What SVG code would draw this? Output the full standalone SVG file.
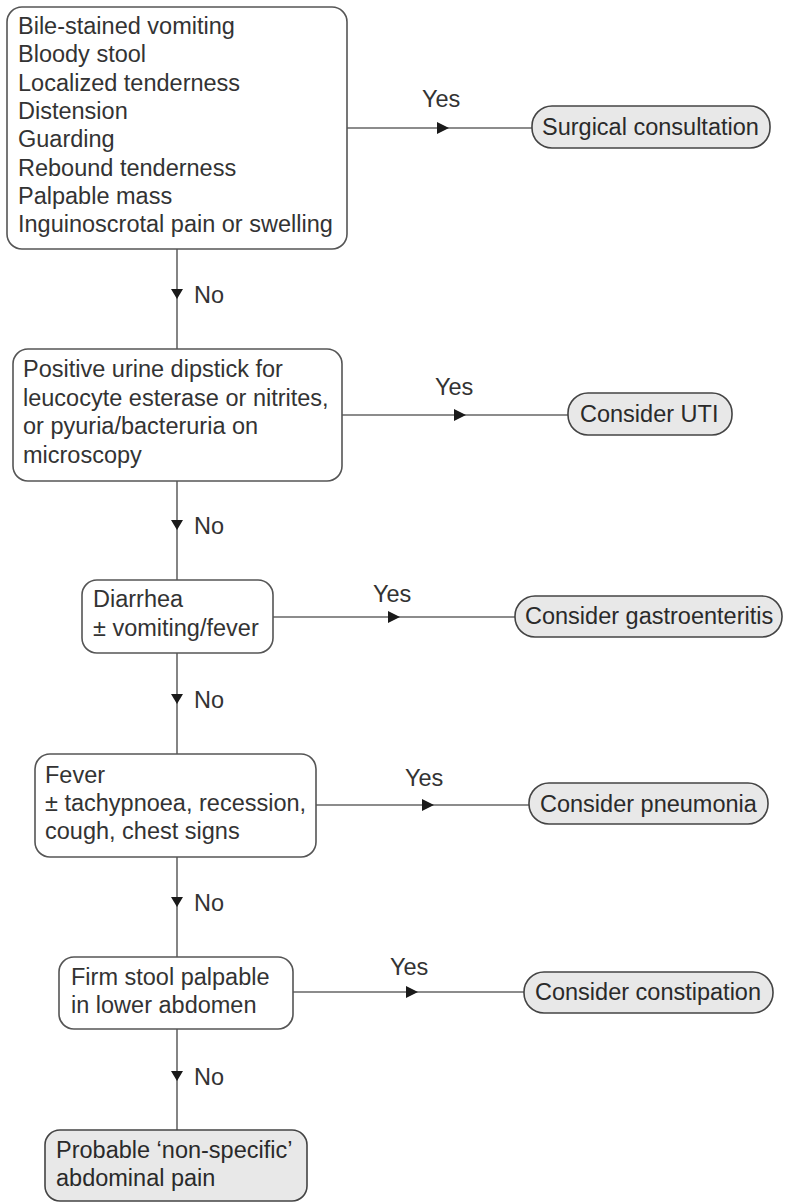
<svg xmlns="http://www.w3.org/2000/svg" width="785" height="1203" viewBox="0 0 785 1203">
<style>
text{font-family:"Liberation Sans",Arial,sans-serif;font-size:23.5px;fill:#333}
.dec{fill:#fff;stroke:#555;stroke-width:1.6}
.res{fill:#e8e8e8;stroke:#444;stroke-width:1.6}
.res-t{fill:#2a2a2a}
.ln{stroke:#666;stroke-width:1.6;fill:none}
.ah{fill:#1a1a1a}
</style>
<rect width="785" height="1203" fill="#fff"/>
<g id="connectors">
<line class="ln" x1="177" y1="249" x2="177" y2="349"/>
<line class="ln" x1="177" y1="481" x2="177" y2="580"/>
<line class="ln" x1="177" y1="653" x2="177" y2="754"/>
<line class="ln" x1="177" y1="857" x2="177" y2="957"/>
<line class="ln" x1="177" y1="1029" x2="177" y2="1130"/>
<line class="ln" x1="347" y1="128" x2="532" y2="128"/>
<line class="ln" x1="342" y1="415" x2="568" y2="415"/>
<line class="ln" x1="273" y1="617" x2="515" y2="617"/>
<line class="ln" x1="316" y1="805" x2="529" y2="805"/>
<line class="ln" x1="293" y1="992" x2="524" y2="992"/>
<polygon class="ah" points="171,289 183,289 177,299"/>
<polygon class="ah" points="171,520 183,520 177,530"/>
<polygon class="ah" points="171,694 183,694 177,704"/>
<polygon class="ah" points="171,897 183,897 177,907"/>
<polygon class="ah" points="171,1071 183,1071 177,1081"/>
<polygon class="ah" points="437,122 437,134 449,128"/>
<polygon class="ah" points="454,409 454,421 466,415"/>
<polygon class="ah" points="388,611 388,623 400,617"/>
<polygon class="ah" points="422,799 422,811 434,805"/>
<polygon class="ah" points="406,986 406,998 418,992"/>
<text x="422" y="107">Yes</text>
<text x="435" y="395">Yes</text>
<text x="373" y="602">Yes</text>
<text x="405" y="786">Yes</text>
<text x="390" y="975">Yes</text>
<text x="194" y="303">No</text>
<text x="194" y="534">No</text>
<text x="194" y="708">No</text>
<text x="194" y="911">No</text>
<text x="194" y="1085">No</text>
</g>
<g id="n1">
<rect class="dec" x="7" y="7" width="340" height="242" rx="15"/>
<text x="18" y="34">Bile-stained vomiting</text>
<text x="18" y="62.3">Bloody stool</text>
<text x="18" y="90.6">Localized tenderness</text>
<text x="18" y="118.9">Distension</text>
<text x="18" y="147.2">Guarding</text>
<text x="18" y="175.5">Rebound tenderness</text>
<text x="18" y="203.8">Palpable mass</text>
<text x="18" y="232">Inguinoscrotal pain or swelling</text>
</g>
<g id="r1">
<rect class="res" x="532" y="106" width="238" height="42" rx="20"/>
<text class="res-t" x="542" y="135">Surgical consultation</text>
</g>
<g id="n2">
<rect class="dec" x="13" y="349" width="329" height="132" rx="15"/>
<text x="23" y="377">Positive urine dipstick for</text>
<text x="23" y="406">leucocyte esterase or nitrites,</text>
<text x="23" y="434">or pyuria/bacteruria on</text>
<text x="23" y="463">microscopy</text>
</g>
<g id="r2">
<rect class="res" x="568" y="393" width="164" height="42" rx="20"/>
<text class="res-t" x="580" y="422">Consider UTI</text>
</g>
<g id="n3">
<rect class="dec" x="82" y="580" width="191" height="73" rx="15"/>
<text x="93" y="607">Diarrhea</text>
<text x="93" y="636">± vomiting/fever</text>
</g>
<g id="r3">
<rect class="res" x="515" y="596" width="267" height="41" rx="20"/>
<text class="res-t" x="525" y="624">Consider gastroenteritis</text>
</g>
<g id="n4">
<rect class="dec" x="35" y="754" width="281" height="103" rx="15"/>
<text x="45" y="783">Fever</text>
<text x="45" y="811">± tachypnoea, recession,</text>
<text x="45" y="839">cough, chest signs</text>
</g>
<g id="r4">
<rect class="res" x="529" y="783" width="239" height="41" rx="20"/>
<text class="res-t" x="540" y="812">Consider pneumonia</text>
</g>
<g id="n5">
<rect class="dec" x="59" y="957" width="234" height="72" rx="15"/>
<text x="71" y="985">Firm stool palpable</text>
<text x="71" y="1013">in lower abdomen</text>
</g>
<g id="r5">
<rect class="res" x="524" y="972" width="249" height="41" rx="20"/>
<text class="res-t" x="535" y="1000">Consider constipation</text>
</g>
<g id="n6">
<rect class="res" x="45" y="1130" width="262" height="71" rx="15"/>
<text class="res-t" x="56" y="1158">Probable ‘non-specific’</text>
<text class="res-t" x="56" y="1186">abdominal pain</text>
</g>
</svg>
